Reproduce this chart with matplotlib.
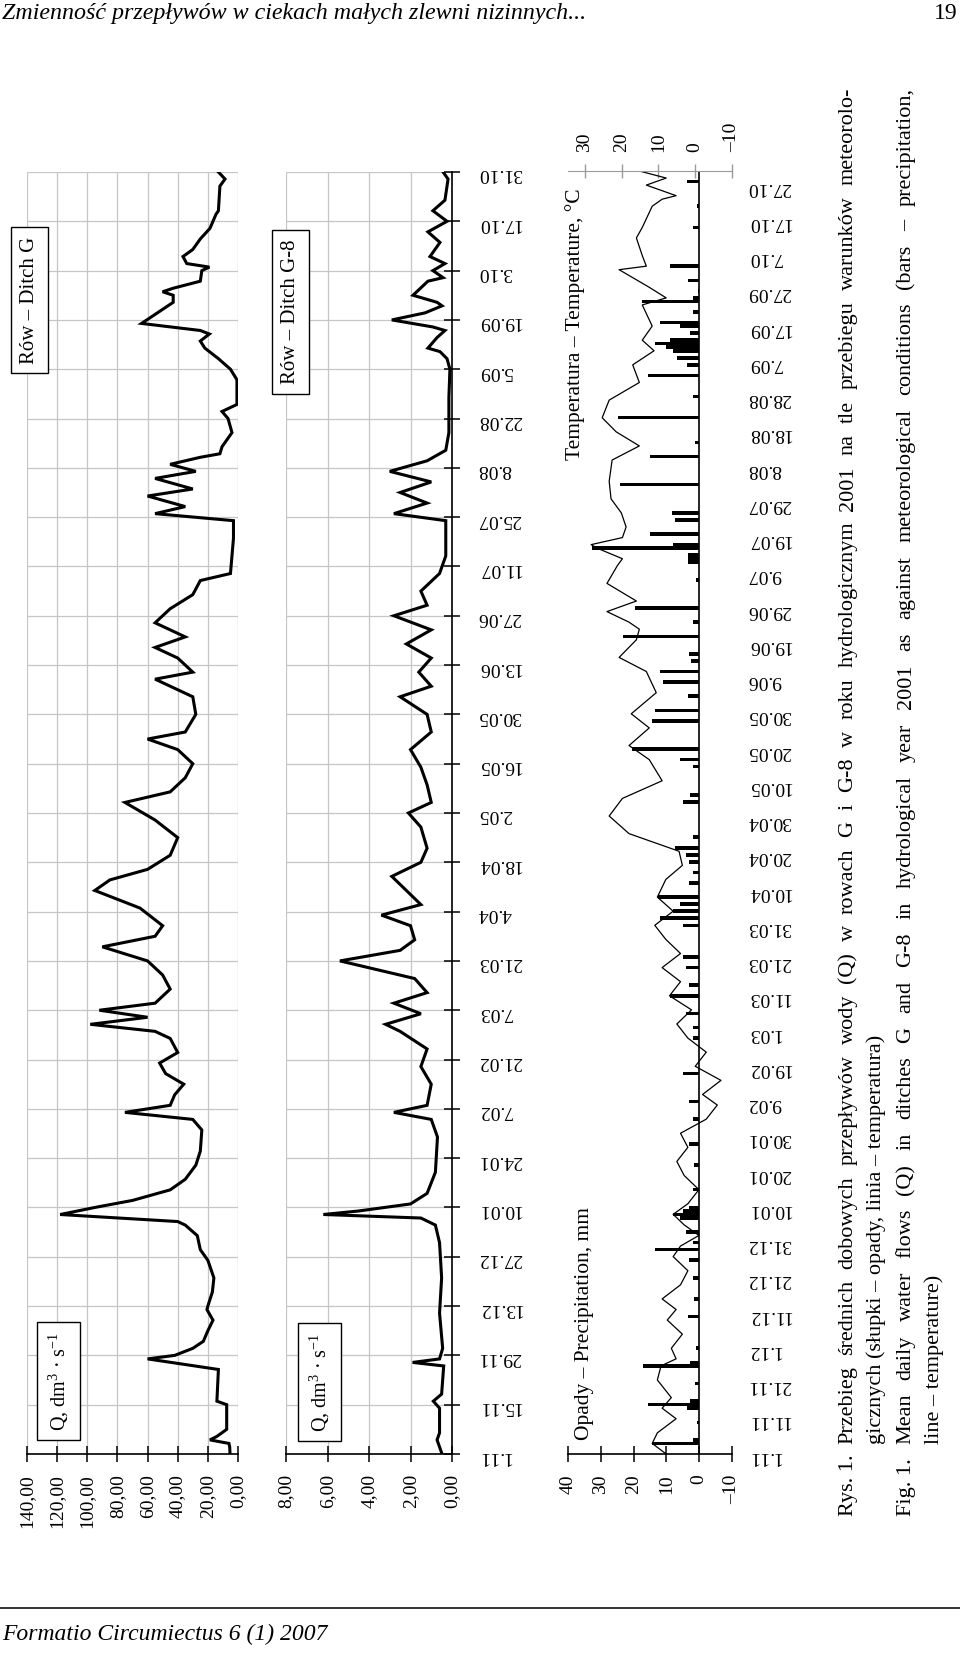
import pandas as pd
import matplotlib
matplotlib.use("Agg")
import matplotlib.pyplot as plt
from matplotlib.lines import Line2D

plt.rcParams["font.family"] = ["Liberation Serif", "DejaVu Serif"]
plt.rcParams["mathtext.fontset"] = "custom"
plt.rcParams["mathtext.rm"] = "Liberation Serif"
plt.rcParams["mathtext.it"] = "Liberation Serif:italic"

W, H = 960, 1661

# days counted from 1.11.2000 (hydrological year 2001)
dates = pd.date_range("2000-11-01", "2001-10-31")
date_lbl = [f"{d.day}.{d.month:02d}" for d in dates]

# Ditch G, Q [dm3/s]
g_day = [0, 2, 3, 4, 5, 7, 14, 15, 24, 27, 28, 30, 32, 35, 38, 41, 42, 46, 50, 55,
         58, 62, 65, 66, 68, 70, 72, 75, 78, 82, 86, 92, 95, 97, 99, 102, 105, 108, 111, 114,
         118, 120, 122, 124, 126, 128, 132, 136, 140, 144, 147, 150, 155, 160, 163, 166, 170, 175, 180, 185,
         188, 192, 196, 200, 203, 205, 210, 215, 220, 222, 226, 229, 232, 236, 240, 244, 248, 250, 260, 265,
         267, 269, 272, 274, 277, 279, 281, 283, 284, 286, 290, 294, 296, 298, 305, 308, 311, 314, 316, 318,
         319, 321, 325, 327, 329, 330, 331, 333, 336, 337, 338, 340, 342, 345, 348, 352, 353, 360, 362, 364]
g_q = [5.3, 5.5, 6, 18.6, 14, 7.5, 7.5, 14, 13, 60, 42, 30, 23, 20, 16.6, 20.6, 20, 17, 16, 20,
       25, 27, 35, 40, 118, 95, 70, 45, 35, 28, 25, 24, 30, 75, 45, 42, 36, 48, 52, 40,
       45, 55, 98, 60, 92, 55, 45, 50, 60, 90, 55, 50, 65, 95, 85, 60, 45, 40, 55, 75,
       45, 35, 30, 40, 60, 35, 28, 30, 55, 30, 40, 55, 35, 55, 45, 30, 25, 5, 3, 3,
       55, 35, 60, 30, 55, 28, 45, 25, 12, 10.6, 4, 6.6, 10.6, 0.7, 0.7, 5, 13, 22, 25, 19,
       25, 64, 50, 43, 43, 50, 43, 25, 24, 19, 34, 36.5, 30, 25, 18.6, 14.6, 13, 12, 8.6, 13]

# Ditch G-8, Q [dm3/s]
g8_day = [0, 4, 6, 13, 15, 17, 25, 26, 27, 30, 40, 50, 60, 65, 67, 68, 69, 71, 74, 80,
          90, 95, 97, 99, 105, 110, 115, 120, 122, 125, 128, 131, 135, 140, 143, 146, 150, 153, 156, 160,
          164, 168, 172, 178, 182, 185, 190, 195, 200, 205, 210, 215, 218, 222, 226, 230, 234, 238, 241, 245,
          250, 255, 265, 267, 270, 273, 276, 279, 282, 285, 290, 300, 308, 311, 313, 314, 317, 319, 320, 322,
          324, 326, 327, 329, 333, 334, 336, 338, 340, 344, 347, 350, 353, 356, 362, 364]
g8_q = [0.48, 0.72, 0.6, 0.6, 0.9, 0.5, 0.4, 1.9, 0.6, 0.45, 0.6, 0.5, 0.6, 0.8, 1.5, 6.2, 4.5, 2.0, 1.2, 0.8,
        0.7, 1.0, 2.8, 1.2, 1.0, 1.5, 1.2, 2.5, 3.2, 1.5, 2.8, 1.2, 1.8, 5.4, 2.5, 1.8, 2.0, 3.4, 1.5, 2.2,
        2.9, 1.5, 1.2, 1.5, 2.1, 1.0, 1.2, 1.5, 2.0, 1.0, 1.2, 2.5, 1.0, 1.6, 1.0, 2.2, 1.0, 2.8, 1.2, 1.5,
        0.6, 0.3, 0.3, 2.8, 1.2, 2.5, 1.0, 3.0, 1.2, 0.3, 0.15, 0.15, 0.1, 0.24, 0.58, 1.16, 0.72, 0.34, 0.92, 2.9,
        1.3, 0.48, 0.72, 1.88, 1.16, 0.43, 0.92, 0.34, 1.06, 0.58, 1.16, 0.24, 0.92, 0.34, 0.19, 0.43]

# precipitation [mm]
p_day = [3, 4, 9, 13, 14, 15, 20, 25, 26, 30, 39, 44, 50, 55, 58, 60, 63, 67, 68, 69,
         70, 75, 82, 88, 95, 100, 108, 118, 121, 125, 130, 133, 138, 141, 150, 152, 154, 156, 158, 162,
         165, 168, 170, 172, 175, 185, 187, 195, 197, 200, 208, 211, 215, 219, 222, 225, 227, 232, 236, 240,
         248, 253, 254, 255, 257, 258, 261, 265, 267, 275, 283, 287, 294, 300, 306, 309, 311, 313, 314, 315,
         316, 318, 320, 321, 324, 327, 328, 330, 333, 337, 348, 354, 361]
p_mm = [14.3, 2, 0.6, 3.7, 15.5, 2.7, 1.2, 17, 2.7, 1, 3.4, 1.5, 2, 3, 13.5, 2, 4, 6, 8, 5,
        3, 2, 1.5, 3, 2, 3, 5, 2, 2, 4, 9, 3, 4, 5, 5, 12, 8, 6, 12.5, 3,
        2, 3, 4, 7.3, 2, 4.9, 2.7, 2, 5.8, 20.4, 14.3, 13.4, 3.4, 11, 11.9, 2.5, 3, 23.2, 2, 19.5,
        1, 3.4, 3.4, 3.4, 32.6, 8, 15, 7.3, 8.2, 24, 15, 1.2, 24.7, 2, 15.5, 3.7, 6.7, 8, 10, 13.4,
        9, 2.7, 5.8, 11.9, 1.8, 17.4, 2, 0.5, 3.4, 8.8, 1.8, 0.6, 3.7]

# air temperature [deg C]
t_day = [0, 3, 6, 10, 13, 16, 21, 25, 27, 30, 34, 38, 41, 44, 48, 52, 56, 59, 62, 65,
         68, 71, 75, 79, 83, 87, 91, 95, 99, 102, 106, 110, 114, 118, 122, 126, 130, 134, 138, 142,
         146, 150, 154, 158, 163, 167, 171, 176, 181, 186, 191, 197, 201, 206, 210, 216, 222, 226, 231, 234,
         236, 239, 242, 247, 252, 254, 257, 258, 260, 263, 267, 271, 276, 282, 286, 290, 294, 299, 304, 309,
         313, 316, 320, 326, 328, 331, 336, 337, 340, 345, 348, 354, 356, 357, 360, 362, 364]
t_c = [7.9, 11.7, 10.3, 5.2, 9, 6.5, 10.3, 9.3, 5.2, 6.5, 3.5, 7.6, 5.2, 9, 4, 2, 6, 4, -1, 3,
       6, 2, -1, 3, 5, 2, 4, -3, -6, -2, -7, 0, -3, 2, 5, 1, 7, 4, 9, 4,
       8, 11, 6, 10.3, 8, 3.5, 4.4, 18, 23.4, 19.8, 9, 12.5, 18, 12.5, 17.4, 10.6, 13.3, 20.7, 16, 15.2,
       18, 24, 16, 24, 21.2, 19.8, 26.7, 28.3, 19.8, 18.8, 20.1, 22.9, 23.4, 22.6, 15.2, 21.5, 25.3, 23.4, 15.2, 17,
       11.2, 14.4, 11.7, 14.4, 7.9, 12.5, 20.7, 13.3, 14.4, 16, 14.4, 11.7, 9, 5.2, 13.3, 7.9, 15.2]

q_ticks_g = [0, 20, 40, 60, 80, 100, 120, 140]
q_ticks_g8 = [0, 2, 4, 6, 8]
p_ticks = [-10, 0, 10, 20, 30, 40]
t_ticks = [-10, 0, 10, 20, 30]

GRID = "#c6c6c6"
FS = 14


def rect(x0, x1, y0, y1):
    return [x0 / W, 1 - y1 / H, (x1 - x0) / W, (y1 - y0) / H]


def comma(v):
    return f"{v:.2f}".replace(".", ",")


def dash(v):
    return f"–{-v}" if v < 0 else str(v)


fig = plt.figure(figsize=(W / 100, H / 100), dpi=100)

# --- Ditch G
ax1 = fig.add_axes(rect(27, 238, 172, 1454))
ax1.plot(g_q, g_day, color="black", lw=2.2, solid_joinstyle="miter")
ax1.set_xlim(140, 0)
ax1.set_ylim(0, 364)
ax1.set_xticks(q_ticks_g)
ax1.set_xticklabels([comma(v) for v in q_ticks_g], rotation=90, fontsize=FS)
ax1.set_yticks(range(0, 365, 14))
ax1.set_yticklabels([])
ax1.tick_params(axis="y", length=0)
ax1.tick_params(axis="x", direction="inout", length=11, width=1.1, pad=9)
ax1.grid(color=GRID, lw=0.9)
for s in ["top", "left", "right"]:
    ax1.spines[s].set_visible(False)
ax1.spines["bottom"].set_linewidth(1.2)

# --- Ditch G-8
ax2 = fig.add_axes(rect(286, 452, 172, 1454))
ax2.plot(g8_q, g8_day, color="black", lw=2.2, solid_joinstyle="miter")
ax2.set_xlim(8, 0)
ax2.set_ylim(0, 364)
ax2.set_xticks(q_ticks_g8)
ax2.set_xticklabels([comma(v) for v in q_ticks_g8], rotation=90, fontsize=FS)
ax2.yaxis.tick_right()
ax2.set_yticks(range(0, 365, 14))
ax2.set_yticklabels([date_lbl[d] for d in range(0, 365, 14)], rotation=180, fontsize=FS)
ax2.tick_params(axis="both", direction="inout", length=11, width=1.1)
ax2.tick_params(axis="x", pad=9)
ax2.tick_params(axis="y", pad=13)
ax2.grid(color=GRID, lw=0.9)
for s in ["top", "left"]:
    ax2.spines[s].set_visible(False)
ax2.spines["bottom"].set_linewidth(1.2)
ax2.spines["right"].set_linewidth(1.2)

# --- precipitation + temperature
ax3 = fig.add_axes(rect(568, 732, 171, 1454))
ax3.barh(p_day, p_mm, height=1.0, color="black")
ax3.axvline(0, color="black", lw=1.2)
ax3.set_xlim(40, -10)
ax3.set_ylim(0, 364)
ax3.set_xticks(p_ticks)
ax3.set_xticklabels([dash(v) for v in p_ticks], rotation=90, fontsize=FS)
ax3.yaxis.tick_right()
ax3.set_yticks(range(0, 365, 10))
ax3.set_yticklabels([date_lbl[d] for d in range(0, 365, 10)], rotation=180, fontsize=FS)
ax3.tick_params(axis="y", length=0, pad=11)
ax3.tick_params(axis="x", direction="inout", length=11, width=1.1, pad=9)
for s in ["top", "left", "right"]:
    ax3.spines[s].set_visible(False)
ax3.spines["bottom"].set_linewidth(1.2)

ax3t = ax3.twiny()
ax3t.plot(t_c, t_day, color="black", lw=0.9)
ax3t.set_xlim(34.6, -10)
ax3t.set_xticks(t_ticks)
ax3t.set_xticklabels([dash(v) for v in t_ticks], rotation=90, fontsize=FS)
ax3t.tick_params(axis="x", direction="inout", length=10, width=1.0, color="#9a9a9a", pad=9)
for s in ["bottom", "left", "right"]:
    ax3t.spines[s].set_visible(False)
ax3t.spines["top"].set_color("#9a9a9a")

# --- boxed labels
box = dict(boxstyle="square,pad=0.45", fc="white", ec="black", lw=1.0)
fig.text(29.5 / W, 1 - 300 / H, "Rów – Ditch G", rotation=90, ha="center", va="center",
         fontsize=15, bbox=box)
fig.text(290.5 / W, 1 - 312 / H, "Rów – Ditch G-8", rotation=90, ha="center", va="center",
         fontsize=15, bbox=box)
qlab = r"Q, dm$^{3}$ · s$^{-1}$"
fig.text(58.5 / W, 1 - 1381 / H, qlab, rotation=90, ha="center", va="center",
         fontsize=14.5, bbox=box)
fig.text(319.5 / W, 1 - 1382 / H, qlab, rotation=90, ha="center", va="center",
         fontsize=14.5, bbox=box)

fig.text(585 / W, 1 - 1440 / H, "Opady – Precipitation, mm", rotation=90,
         ha="center", va="bottom", fontsize=15.5)
fig.text(575 / W, 1 - 188 / H, "Temperatura – Temperature, °C", rotation=90,
         ha="center", va="top", fontsize=15.5)

# --- page header / footer
fig.text(2 / W, 1 - 19 / H, "Zmienność przepływów w ciekach małych zlewni nizinnych...",
         style="italic", fontsize=17.3, va="baseline")
fig.text(958 / W, 1 - 19 / H, "19", fontsize=17, ha="right", va="baseline")
fig.add_artist(Line2D([0, 1], [1 - 1608 / H] * 2, color="#333333", lw=1.4))
fig.text(2 / W, 1 - 1640 / H, "Formatio Circumiectus 6 (1) 2007", style="italic",
         fontsize=17, va="baseline")

# --- caption (rotated, justified)
CAP = 16
cap_lines = [
    (848, "Przebieg średnich dobowych przepływów wody (Q) w rowach G i G-8 w roku hydrologicznym 2001 na tle przebiegu warunków meteorolo-", True),
    (876, "gicznych (słupki – opady, linia – temperatura)", False),
    (906, "Mean daily water flows (Q) in ditches G and G-8 in hydrological year 2001 as against meteorological conditions (bars – precipitation,", True),
    (934, "line – temperature)", False),
]
fig.text(848 / W, 1 - 1516 / H, "Rys. 1.", rotation=90, ha="center", va="bottom", fontsize=CAP)
fig.text(906 / W, 1 - 1516 / H, "Fig. 1.", rotation=90, ha="center", va="bottom", fontsize=CAP)

y_start, y_end = 1444, 88
just = []
for x, line, full in cap_lines:
    if not full:
        fig.text(x / W, 1 - y_start / H, line, rotation=90, ha="center", va="bottom", fontsize=CAP)
        continue
    words = line.split(" ")
    arts = [fig.text(x / W, 0.5, w, rotation=90, ha="center", va="bottom", fontsize=CAP)
            for w in words]
    just.append(arts)

fig.canvas.draw()
rend = fig.canvas.get_renderer()
for arts in just:
    hs = [a.get_window_extent(rend).height for a in arts]
    gap = (y_start - y_end - sum(hs)) / (len(arts) - 1)
    y = y_start
    for a, h in zip(arts, hs):
        a.set_y(1 - y / H)
        y -= h + gap

fig.savefig("out.png", dpi=100)
